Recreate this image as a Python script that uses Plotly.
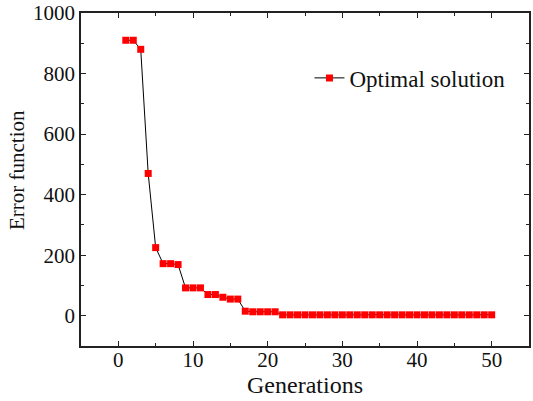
import plotly.graph_objects as go

generations = list(range(1, 51))
error_values = [910, 910, 880, 470, 225, 172, 172, 169, 92, 92, 92, 70, 70, 61, 55, 55,
                15, 13, 13, 13, 13] + [3] * 29

x_ticks = [0, 10, 20, 30, 40, 50]
y_ticks = [0, 200, 400, 600, 800, 1000]

font_family = "Liberation Serif, serif"
tick_size = 21

fig = go.Figure()
fig.add_trace(go.Scatter(
    x=generations, y=error_values, mode="lines+markers",
    name="Optimal solution",
    line=dict(color="black", width=1),
    marker=dict(symbol="square", size=7, color="#ff0000",
                line=dict(width=0)),
))

axis_common = dict(
    showline=True, linecolor="#222222", linewidth=1.5, mirror="allticks",
    ticks="inside", ticklen=5, tickcolor="#222222", tickwidth=1,
    showgrid=False, zeroline=False, automargin=False,
    ticklabeloverflow="allow",
    minor=dict(ticks="inside", ticklen=3, tickcolor="#222222", tickwidth=1),
    tickfont=dict(family=font_family, size=tick_size, color="#111111"),
)

fig.update_xaxes(range=[-5, 55], tickvals=x_ticks,
                 minor_dtick=5, ticklabelstandoff=-6,
                 title=dict(text="Generations", font=dict(family=font_family, size=24, color="#111111"), standoff=0),
                 **axis_common)
fig.update_yaxes(range=[-100, 1000], tickvals=y_ticks,
                 minor_dtick=100, ticklabelstandoff=0,
                 **axis_common)

fig.add_annotation(
    text="Error function", xref="paper", yref="paper",
    x=0, y=0.5285, xanchor="center", yanchor="middle",
    xshift=-64, textangle=-90, showarrow=False,
    font=dict(family=font_family, size=21, color="#111111"),
)

fig.update_layout(
    width=533, height=401,
    margin=dict(l=81, r=4, t=13, b=55),
    plot_bgcolor="white", paper_bgcolor="white",
    showlegend=True,
    legend=dict(x=0.51, y=0.805, xanchor="left", yanchor="middle",
                bgcolor="rgba(0,0,0,0)",
                font=dict(family=font_family, size=23, color="#111111")),
)

fig.write_html("out.html", config={"displayModeBar": False},
               post_script="document.body.style.margin='0';document.body.style.padding='0';")
